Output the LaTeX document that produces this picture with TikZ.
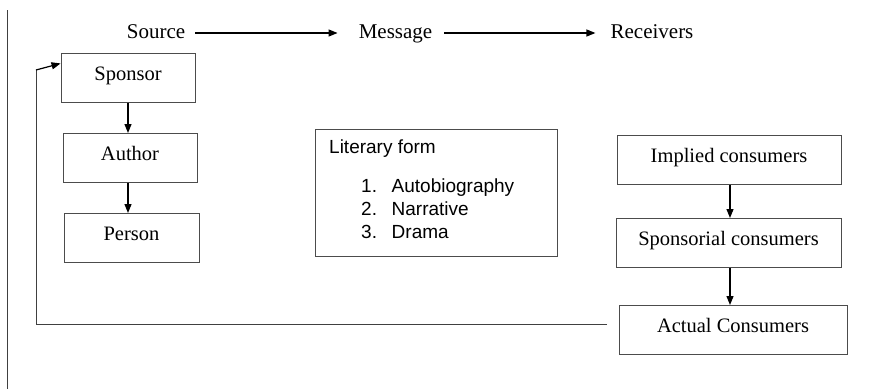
\documentclass[tikz,border=0pt]{standalone}
\usepackage{fontspec}
\setmainfont{Liberation Serif}
\newfontfamily\arialf{Liberation Sans}
\usetikzlibrary{arrows.meta}
\begin{document}
\begin{tikzpicture}[x=1pt,y=-1pt,
  box/.style={draw=black!70,line width=0.9pt,inner xsep=0pt,inner ysep=0pt,
    text height=27pt,text depth=22pt,font=\fontsize{20.5}{24}\selectfont},
  head/.style={inner sep=0pt,text height=15pt,text depth=5pt,font=\fontsize{21}{25}\selectfont},
  arr/.style={-{Triangle[length=9pt,width=7pt]},line width=1.2pt},
  thin/.style={draw=black!75,line width=0.8pt},
  lit/.style={inner sep=0pt,anchor=base west,font=\arialf\fontsize{19}{22}\selectfont}]
\useasboundingbox (0,0) rectangle (875,389);
% page margin line
\draw[thin] (7,10) -- (7,389);
% header
\node[head] (src) at (156,33) {Source};
\node[head] (msg) at (395.5,33) {Message};
\node[head] (rec) at (652,33) {Receivers};
\draw[arr,shorten <=10pt,shorten >=21pt] (src.east) -- (msg.west);
\draw[arr,shorten <=12pt,shorten >=15pt] (msg.east) -- (rec.west);
% source boxes
\node[box,minimum width=134pt] (spon) at (128,53) [anchor=north] {Sponsor};
\node[box,minimum width=134pt] (auth) at (130,133) [anchor=north] {Author};
\node[box,minimum width=135pt] (pers) at (131.5,213) [anchor=north] {Person};
\draw[arr] (spon.south -| 128,0) -- (auth.north -| 128,0);
\draw[arr] (auth.south -| 128,0) -- (pers.north -| 128,0);
% literary form
\node[draw=black!70,line width=0.9pt,minimum width=242pt,minimum height=127pt,inner sep=0pt] (form) at (436,192.5) {};
\node[lit] (ft) at (329,153) {Literary form};
\node[lit] (n1) at (361,192) {1.};
\node[lit] (t1) at (391.5,192) {Autobiography};
\node[lit] (n2) at (361,215) {2.};
\node[lit] (t2) at (391.5,215) {Narrative};
\node[lit] (n3) at (361,238) {3.};
\node[lit] (t3) at (391.5,238) {Drama};
% receivers boxes
\node[box,minimum width=224pt] (imp) at (729,135) [anchor=north] {Implied consumers};
\node[box,minimum width=225pt] (spc) at (728.5,218) [anchor=north] {Sponsorial consumers};
\node[box,minimum width=228pt] (act) at (733,305) [anchor=north] {Actual Consumers};
\draw[arr] (imp.south -| 730,0) -- (spc.north -| 730,0);
\draw[arr] (spc.south -| 730,0) -- (act.north -| 730,0);
% feedback
\coordinate (fa) at (607,324);
\coordinate (fb) at (36,324);
\coordinate (fc) at (36,70);
\draw[thin] (fa) -- (fb) -- (fc);
\draw[arr] (fc) -- ([yshift=14.5pt]spon.west);
\end{tikzpicture}
\end{document}
